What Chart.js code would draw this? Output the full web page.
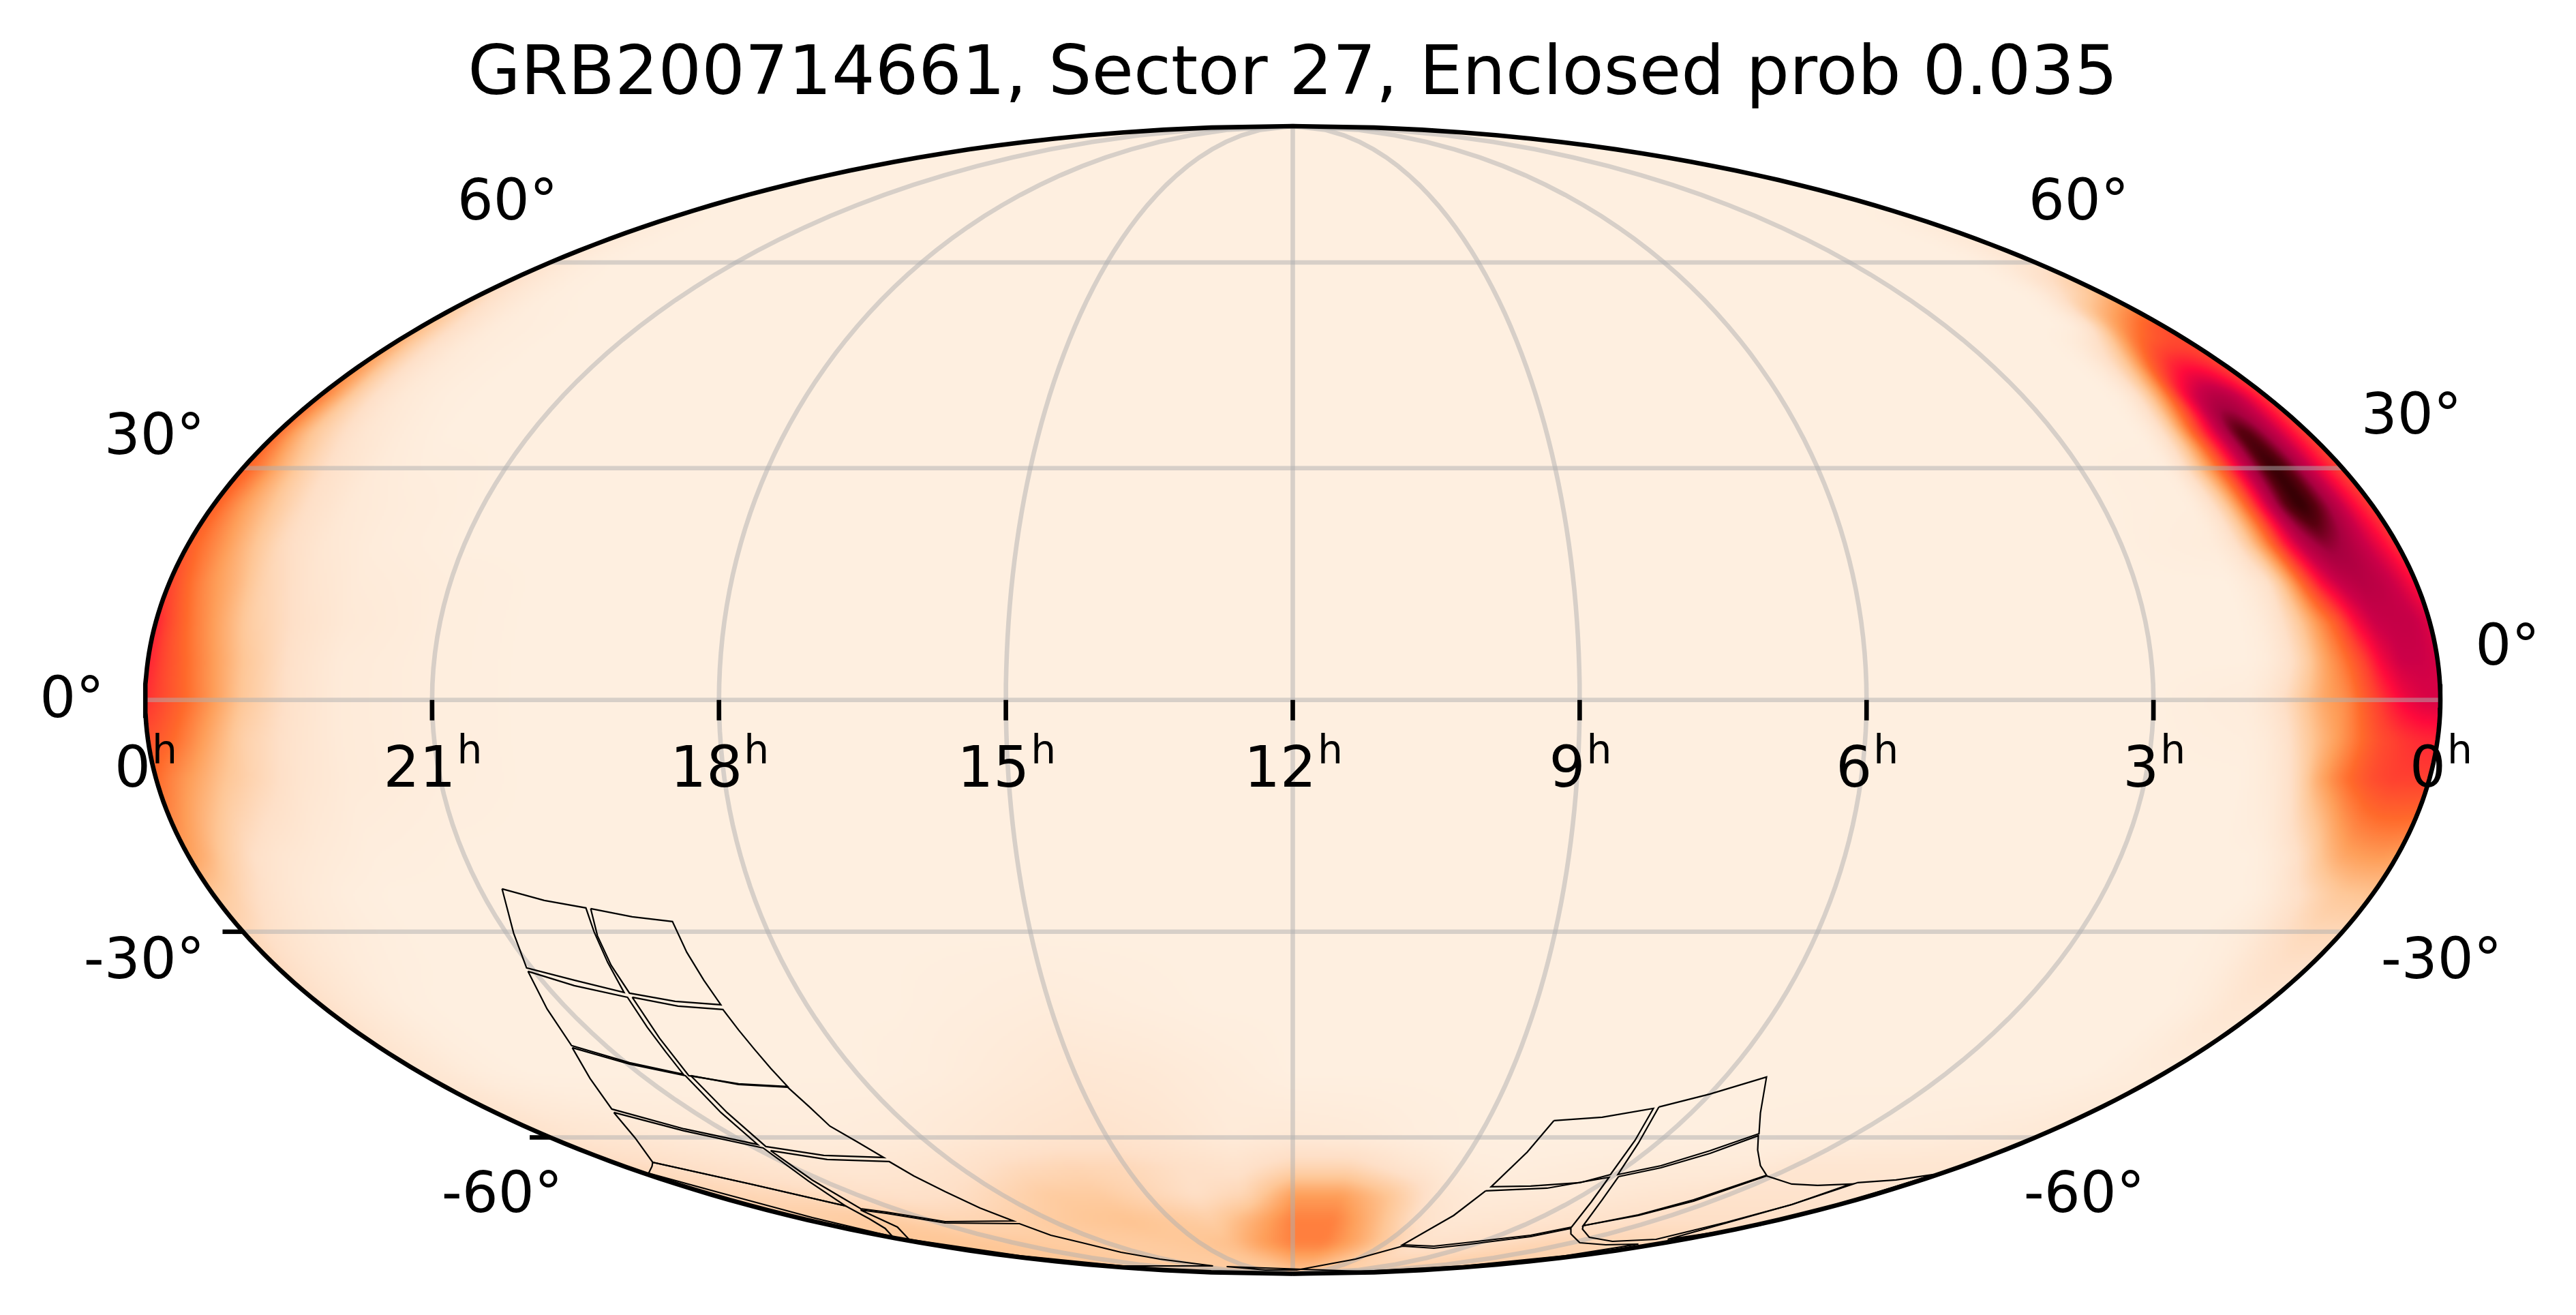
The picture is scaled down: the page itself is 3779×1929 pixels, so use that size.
<!DOCTYPE html>
<html lang="en">
<head>
    <meta charset="UTF-8">
    <title>GRB200714661, Sector 27, Enclosed prob 0.035</title>
    <script src="https://cdn.jsdelivr.net/npm/chart.js@4"></script>
    <style>
        html, body { margin: 0; padding: 0; background: #fff; }
        canvas { display: block; }
    </style>
</head>
<body>
    <canvas id="skyChart" width="3779" height="1929"></canvas>
    <script>
        const titleText = 'GRB200714661, Sector 27, Enclosed prob 0.035';

        // tick values and labels
        const raTicks = [24, 21, 18, 15, 12, 9, 6, 3, 0];
        const raTickLabels = ['0', '21', '18', '15', '12', '9', '6', '3', '0'];
        const raTickUnit = 'h';
        const decGrid = [60, 30, 0, -30, -60];
        const decTickMarks = [-30, -60];
        const decTickLabels = ['60°', '60°', '30°', '30°', '0°', '0°', '-30°', '-30°', '-60°', '-60°'];

        // probability map, sampled on RA (hours) and Dec (degrees)
        const raSamples = [0, .2, .4, .6, .8, 1, 1.2, 1.4, 1.6, 1.8, 2,  3, 4, 6, 8, 9, 10, 11, 12, 13,  14, 15, 16, 17, 18, 19, 20, 21, 22,  22.5, 23, 23.3, 23.6, 23.8, 24];
        const decSamples = [90, 70, 60, 55, 50, 40, 35, 30, 25, 20, 15, 10, 5, 0, -5, -10, -20, -25, -30, -40, -50, -60, -65, -70, -75, -80, -85, -90];
        const skyProb = [
            [0,0,0,0,0,0,0,0,0,0,0,  0,0,0,0,0,0,0,0,0,  0,0,0,0,0,0,0,0,0,  0,0,0,0,0,0],
            [0,0,0,0,0,0,0,0,0,0,0,  0,0,0,0,0,0,0,0,0,  0,0,0,0,0,0,0,0,0,  0,0,0,0,0,0],
            [8,6,4,2,1,0,0,0,0,0,0,  0,0,0,0,0,0,0,0,0,  0,0,0,0,0,0,0,0,0,  0,0,1,2,4,7],
            [25,19,15,11,5,1,0,0,0,0,0,  0,0,0,0,0,0,0,0,0,  0,0,0,0,0,0,0,0,0,  0,1,3,6,9,14],
            [47,44,38,32,23,9,2,0,0,0,0,  0,0,0,0,0,0,0,0,0,  0,0,0,0,0,0,0,0,0,  1,2,6,11,17,24],
            [50,62,73,77,72,62,39,22,8,1,0,  0,0,0,0,0,0,0,0,0,  0,0,0,0,0,0,0,0,0,  1,4,9,18,29,38],
            [48,60,72,85,94,76,58,38,18,5,0,  0,0,0,0,0,0,0,0,0,  0,0,0,0,0,0,0,0,0,  2,6,12,20,29,40],
            [48,58,72,88,100,82,63,42,25,10,1,  0,0,0,0,0,0,0,0,0,  0,0,0,0,0,0,0,0,1,  3,9,16,27,36,43],
            [50,60,74,88,100,88,66,42,22,8,1,  0,0,0,0,0,0,0,0,0,  0,0,0,0,0,0,0,0,2,  4,11,19,28,35,43],
            [52,63,72,80,84,76,60,38,20,7,2,  0,0,0,0,0,0,0,0,0,  0,0,0,0,0,0,0,0,2,  5,12,21,31,37,43],
            [58,68,74,76,72,62,44,24,8,3,0,  0,0,0,0,0,0,0,0,0,  0,0,0,0,0,0,0,1,3,  7,15,25,33,40,49],
            [66,72,72,70,60,43,31,18,8,2,0,  0,0,0,0,0,0,0,0,0,  0,0,0,0,0,0,0,1,4,  9,17,27,37,45,56],
            [68,70,70,62,48,37,28,16,7,2,0,  0,0,0,0,0,0,0,0,0,  0,0,0,0,0,0,0,1,3,  9,20,30,40,47,56],
            [68,67,62,53,43,33,29,21,12,6,2,  0,0,0,0,0,0,0,0,0,  0,0,0,0,0,0,0,1,3,  9,20,31,41,47,54],
            [55,54,51,47,40,32,25,17,8,3,1,  0,0,0,0,0,0,0,0,0,  0,0,0,0,0,0,0,1,3,  8,16,26,36,42,46],
            [50,50,50,47,42,35,26,13,5,2,0,  0,0,0,0,0,0,0,0,0,  0,0,0,0,0,0,0,1,3,  7,15,21,29,34,40],
            [30,31,30,28,22,13,6,2,0,0,0,  0,0,0,0,0,0,0,0,0,  0,0,0,0,0,0,0,0,1,  3,6,10,18,25,30],
            [21,20,19,15,10,6,2,0,0,0,0,  0,0,0,0,0,0,0,0,0,  0,0,0,0,0,0,0,0,0,  1,4,7,12,17,20],
            [13,13,13,11,8,4,2,1,0,0,0,  0,0,0,0,0,0,0,0,0,  0,0,0,0,0,0,0,0,0,  1,3,5,8,11,14],
            [5,6,6,4,2,1,0,0,0,0,0,  0,0,0,0,0,0,0,0,0,  1,2,1,0,0,0,0,0,0,  0,1,3,5,7,10],
            [2,2,2,1,1,0,0,0,0,0,0,  0,0,0,0,0,0,0,0,2,  4,5,3,1,0,0,0,0,0,  0,1,2,4,5,6],
            [4,4,4,3,3,3,3,2,2,2,2,  1,1,0,0,0,1,3,4,3,  6,8,7,5,3,2,2,3,4,  5,6,6,7,8,8],
            [6,6,6,6,6,6,6,6,6,6,6,  6,3,3,1,2,7,14,14,8,  10,13,14,12,8,6,5,6,8,  9,10,11,11,12,12],
            [7,7,7,7,7,7,8,8,8,8,8,  8,7,4,3,6,20,30,30,14,  10,14,18,18,14,10,9,10,12,  13,13,14,14,14,14],
            [10,10,10,10,10,10,10,10,10,10,10,  10,9,7,5,10,24,36,36,26,  17,19,21,20,18,16,14,15,18,  18,18,17,17,16,16],
            [13,13,13,13,13,14,14,14,14,14,14,  14,14,10,8,18,28,36,36,30,  22,20,19,18,18,18,18,19,20,  20,20,20,20,20,20],
            [16,16,16,16,16,16,16,16,16,16,16,  16,16,14,14,18,22,26,26,22,  20,19,18,18,18,18,18,19,20,  20,20,20,20,20,20],
            [18,18,18,18,18,18,18,18,18,18,18,  18,18,18,18,18,18,18,18,18,  18,18,18,18,18,18,18,18,18,  18,18,18,18,18,18]
        ];

        // CCD footprints of sector 27, in map units (x, y on the projection plane)
        const ccdA = [[-1160,-277],[-1098,-294],[-1037,-305],[-1025,-340],[-1005,-385],[-981,-429],[-1054,-411],[-1124,-393],[-1143,-342]];
        const ccdB = [[-1030,-306],[-969,-318],[-910,-325],[-889,-370],[-864,-411],[-839,-447],[-906,-442],[-973,-430],[-1000,-389],[-1020,-346]];
        const ccdC = [[-1122,-398],[-1054,-419],[-976,-436],[-947,-480],[-920,-516],[-894,-549],[-973,-532],[-1058,-507],[-1094,-453]];
        const ccdD = [[-969,-436],[-902,-449],[-836,-454],[-813,-484],[-790,-512],[-766,-540],[-741,-567],[-813,-563],[-886,-551],[-929,-496]];
        const ccdE = [[-1057,-510],[-973,-534],[-891,-551],[-839,-605],[-785,-652],[-893,-629],[-999,-600],[-1031,-555]];
        const ccdF = [[-883,-551],[-813,-564],[-741,-568],[-710,-596],[-679,-625],[-639,-648],[-600,-671],[-688,-668],[-773,-655],[-830,-605]];
        const ccdG = [[-996,-605],[-893,-632],[-777,-657],[-710,-706],[-656,-742],[-795,-710],[-939,-678],[-965,-642]];
        const ccdH = [[-766,-661],[-683,-674],[-592,-677],[-556,-698],[-510,-721],[-459,-745],[-410,-764],[-510,-765],[-596,-751],[-634,-746],[-705,-704]];
        const ccdJ = [[-939,-678],[-795,-710],[-656,-742],[-621,-761],[-598,-775],[-587,-787],[-705,-759],[-839,-723],[-945,-694],[-940,-684]];
        const ccdK = [[-634,-748],[-596,-753],[-510,-767],[-401,-768],[-355,-785],[-309,-796],[-252,-810],[-195,-820],[-117,-830],[-250,-830],[-400,-815],[-563,-791],[-580,-773]];
        const ccdL = [[383,-617],[454,-612],[529,-599],[502,-646],[466,-696],[421,-708],[349,-713],[291,-714],[344,-663]];
        const ccdM = [[537,-597],[612,-578],[695,-553],[686,-606],[684,-636],[612,-661],[540,-683],[477,-696],[507,-650]];
        const ccdP = [[478,-699],[540,-686],[612,-665],[683,-639],[682,-660],[686,-683],[695,-697],[588,-733],[507,-755],[426,-771],[454,-733]];
        const ccdQ = [[426,-771],[507,-756],[588,-735],[695,-698],[732,-710],[770,-712],[818,-710],[732,-740],[636,-766],[533,-791],[469,-794],[435,-788],[425,-776]];
        const ccdR = [[828,-708],[885,-704],[940,-696],[828,-731],[684,-771],[550,-791],[636,-767],[732,-740]];
        const ccdS = [[283,-720],[373,-716],[464,-700],[438,-736],[409,-773],[349,-785],[253,-796],[207,-801],[161,-799],[236,-756]];
        const ccdT = [[161,-801],[207,-804],[253,-799],[349,-787],[408,-775],[408,-783],[421,-796],[459,-799],[507,-798],[400,-815],[250,-830],[100,-838],[-97,-831],[-40,-836],[6,-836],[92,-820]];
        const ccdOutlines = [ccdA, ccdB, ccdC, ccdD, ccdE, ccdF, ccdG, ccdH, ccdJ, ccdK, ccdL, ccdM, ccdP, ccdQ, ccdR, ccdS, ccdT];

        // colour ramp of the map
        const rampValues = [0, 10, 20, 30, 40, 50, 60, 70, 80, 90, 100];
        const rampColors = [[254,239,224],[254,224,200],[254,199,151],[254,159,90],[255,106,43],[255,64,48],[255,10,60],[204,0,72],[168,0,64],[90,0,16],[42,0,0]];

        // map half axes: one unit is one canvas pixel
        const mapA = 1683.5;
        const mapB = 841.5;

        function auxAngle(dec) {
            if (Math.abs(dec) >= 90) return Math.sign(dec) * Math.PI / 2;
            const target = Math.PI * Math.sin(dec * Math.PI / 180);
            let t = dec * Math.PI / 180;
            for (let i = 0; i < 40; i++) {
                t -= (2 * t + Math.sin(2 * t) - target) / (2 + 2 * Math.cos(2 * t));
            }
            return t;
        }

        function project(ra, dec) {
            const t = auxAngle(dec);
            return { x: mapA * (12 - ra) / 12 * Math.cos(t), y: mapB * Math.sin(t) };
        }

        function lineDataset(data, color, width, order) {
            return { data: data, showLine: true, borderColor: color, borderWidth: width, pointRadius: 0, tension: 0, clip: false, order: order };
        }

        const datasets = [];
        const gridColor = 'rgba(176,176,176,0.5)';

        // graticule
        for (const ra of raTicks.slice(1, -1)) {
            const pts = [];
            for (let d = -90; d <= 90; d += 2) pts.push(project(ra, d));
            datasets.push(lineDataset(pts, gridColor, 6.6, 5));
        }
        for (const dec of decGrid) {
            datasets.push(lineDataset([project(24, dec), project(0, dec)], gridColor, 6.6, 5));
        }

        // footprints
        for (const ccd of ccdOutlines) {
            const pts = ccd.concat([ccd[0]]).map(p => ({ x: p[0], y: p[1] }));
            datasets.push(lineDataset(pts, '#000', 2.2, 3));
        }

        // ticks
        for (const ra of raTicks.slice(1, -1)) {
            const p = project(ra, 0);
            datasets.push(lineDataset([p, { x: p.x, y: p.y - 30 }], '#000', 6.6, 2));
        }
        for (const dec of decTickMarks) {
            const p = project(24, dec);
            datasets.push(lineDataset([p, { x: p.x - 30, y: p.y }], '#000', 6.6, 2));
        }

        // frame of the projection
        const framePts = [];
        for (let d = -90; d <= 90; d += 1) framePts.push(project(24, d));
        for (let d = 90; d >= -90; d -= 1) framePts.push(project(0, d));
        datasets.push(lineDataset(framePts, '#000', 6.6, 1));

        function sampleIndex(list, v) {
            let i = 0;
            while (i < list.length - 2 && v > list[i + 1]) i++;
            return i;
        }

        function probAt(ra, dec) {
            const i = sampleIndex(raSamples, ra);
            let j = 0;
            while (j < decSamples.length - 2 && dec < decSamples[j + 1]) j++;
            const fx = (ra - raSamples[i]) / (raSamples[i + 1] - raSamples[i]);
            const fy = (dec - decSamples[j]) / (decSamples[j + 1] - decSamples[j]);
            const top = skyProb[j][i] * (1 - fx) + skyProb[j][i + 1] * fx;
            const bottom = skyProb[j + 1][i] * (1 - fx) + skyProb[j + 1][i + 1] * fx;
            return top * (1 - fy) + bottom * fy;
        }

        function rampColor(v) {
            let i = 0;
            while (i < rampValues.length - 2 && v > rampValues[i + 1]) i++;
            const f = Math.min(1, Math.max(0, (v - rampValues[i]) / (rampValues[i + 1] - rampValues[i])));
            return [0, 1, 2].map(c => rampColors[i][c] + (rampColors[i + 1][c] - rampColors[i][c]) * f);
        }

        function blurValues(src, w, h, r) {
            const tmp = new Float32Array(src.length);
            for (let y = 0; y < h; y++) {
                for (let x = 0; x < w; x++) {
                    let s = 0, n = 0;
                    for (let k = -r; k <= r; k++) {
                        const xx = x + k;
                        if (xx >= 0 && xx < w) { s += src[y * w + xx]; n++; }
                    }
                    tmp[y * w + x] = s / n;
                }
            }
            for (let y = 0; y < h; y++) {
                for (let x = 0; x < w; x++) {
                    let s = 0, n = 0;
                    for (let k = -r; k <= r; k++) {
                        const yy = y + k;
                        if (yy >= 0 && yy < h) { s += tmp[yy * w + x]; n++; }
                    }
                    src[y * w + x] = s / n;
                }
            }
        }

        const heatPlugin = {
            id: 'skyHeat',
            beforeDatasetsDraw(chart) {
                const { ctx, chartArea: area, scales } = chart;
                const step = 3;
                const w = Math.round(area.width / step);
                const h = Math.round(area.height / step);
                const values = new Float32Array(w * h);
                for (let py = 0; py < h; py++) {
                    const my = scales.y.getValueForPixel(area.top + (py + .5) * step);
                    const sinT = Math.max(-.9999, Math.min(.9999, my / mapB));
                    const t = Math.asin(sinT);
                    const cosT = Math.cos(t);
                    const dec = Math.asin((2 * t + Math.sin(2 * t)) / Math.PI) * 180 / Math.PI;
                    for (let px = 0; px < w; px++) {
                        const mx = scales.x.getValueForPixel(area.left + (px + .5) * step);
                        const u = Math.max(-1, Math.min(1, mx / (mapA * cosT)));
                        values[py * w + px] = probAt(12 - 12 * u, dec);
                    }
                }
                blurValues(values, w, h, 2);
                blurValues(values, w, h, 2);

                const off = document.createElement('canvas');
                off.width = w;
                off.height = h;
                const offCtx = off.getContext('2d');
                const img = offCtx.createImageData(w, h);
                for (let i = 0; i < values.length; i++) {
                    const c = rampColor(values[i]);
                    img.data[i * 4] = c[0];
                    img.data[i * 4 + 1] = c[1];
                    img.data[i * 4 + 2] = c[2];
                    img.data[i * 4 + 3] = 255;
                }
                offCtx.putImageData(img, 0, 0);

                ctx.save();
                ctx.beginPath();
                ctx.ellipse(scales.x.getPixelForValue(0), scales.y.getPixelForValue(0), area.width / 2, area.height / 2, 0, 0, Math.PI * 2);
                ctx.clip();
                ctx.imageSmoothingEnabled = true;
                ctx.drawImage(off, area.left, area.top, area.width, area.height);
                ctx.restore();
            }
        };

        // where each Dec label sits in map units: centre x, baseline y
        const decLabelSpots = [[-1152, 705], [1153, 705], [-1670, 361], [1641, 391], [-1791, -25], [1782, 52], [-1685, -408], [1685, -408], [-1160, -751], [1161, -751]];

        const textPlugin = {
            id: 'skyText',
            afterDatasetsDraw(chart) {
                const { ctx, scales } = chart;
                ctx.save();
                ctx.fillStyle = '#000';
                ctx.textBaseline = 'alphabetic';
                const mainFont = '83.3px "DejaVu Sans"';
                const supFont = '58.3px "DejaVu Sans"';

                raTicks.forEach((ra, i) => {
                    const cx = scales.x.getPixelForValue(project(ra, 0).x);
                    const base = scales.y.getPixelForValue(0) + 127;
                    ctx.font = mainFont;
                    const w1 = ctx.measureText(raTickLabels[i]).width;
                    ctx.font = supFont;
                    const w2 = ctx.measureText(raTickUnit).width;
                    const left = cx - (w1 + w2) / 2;
                    ctx.textAlign = 'left';
                    ctx.font = mainFont;
                    ctx.fillText(raTickLabels[i], left, base);
                    ctx.font = supFont;
                    ctx.fillText(raTickUnit, left + w1 + 2, base - 34);
                });

                ctx.font = mainFont;
                ctx.textAlign = 'center';
                decTickLabels.forEach((label, i) => {
                    const spot = decLabelSpots[i];
                    ctx.fillText(label, scales.x.getPixelForValue(spot[0]), scales.y.getPixelForValue(spot[1]));
                });
                ctx.restore();
            }
        };

        new Chart(document.getElementById('skyChart').getContext('2d'), {
            type: 'scatter',
            data: { datasets: datasets },
            plugins: [heatPlugin, textPlugin],
            options: {
                responsive: false,
                animation: false,
                devicePixelRatio: 1,
                layout: { padding: { left: 213, right: 199, top: 0, bottom: 60.5 } },
                plugins: {
                    legend: { display: false },
                    tooltip: { enabled: false },
                    title: {
                        display: true,
                        text: titleText,
                        fullSize: false,
                        color: '#000',
                        font: { family: '"DejaVu Sans"', size: 100, weight: 'normal', lineHeight: 1.2 },
                        padding: { top: 52, bottom: 13 }
                    }
                },
                scales: {
                    x: { type: 'linear', display: false, min: -mapA, max: mapA },
                    y: { type: 'linear', display: false, min: -mapB, max: mapB }
                }
            }
        });
    </script>
</body>
</html>
